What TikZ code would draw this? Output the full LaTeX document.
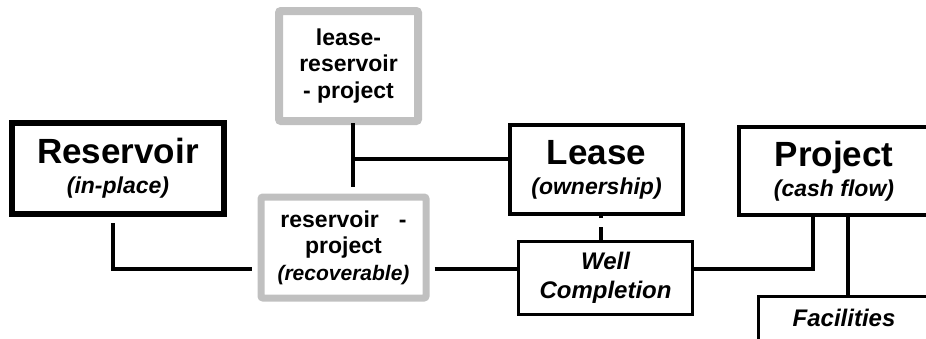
\documentclass[tikz,border=0pt]{standalone}
\usepackage{fontspec}
\setmainfont{Liberation Sans}

\definecolor{boxgray}{RGB}{192,192,192}
\newcommand{\boxtitle}[1]{{\fontsize{35}{30}\selectfont #1}}

\begin{document}
\begin{tikzpicture}[x=1pt,y=-1pt,
                    main box/.style={rectangle,draw,line width=4pt,align=center,inner sep=0pt,
                                     font=\bfseries\fontsize{23}{30}\selectfont},
                    gray box/.style={rectangle,draw=boxgray,line width=7pt,rounded corners=2pt,
                                     align=center,inner sep=0pt,font=\bfseries\fontsize{23}{26.5}\selectfont},
                    link/.style={line width=4.5pt}]
  \clip (0,0) rectangle (926,338);
  \node[main box,line width=6pt,minimum width=212pt,minimum height=91pt] (res) at (118,168.5)
    {\boxtitle{Reservoir}\\\textit{(in-place)}};
  \node[gray box,line width=8pt,minimum width=139pt,minimum height=110pt] (lrp) at (348.5,66)
    {lease-\\reservoir\\- project};
  \node[gray box,minimum width=165pt,minimum height=101pt] (rp) at (343.5,247.5)
    {reservoir\hspace{20pt}-\\project\\{\fontsize{21}{26}\selectfont\itshape (recoverable)}};
  \node[main box,minimum width=173pt,minimum height=89pt] (lease) at (596.5,169.5)
    {\boxtitle{Lease}\\\textit{(ownership)}};
  \node[main box,line width=3pt,minimum width=174pt,minimum height=73pt,
        font=\bfseries\itshape\fontsize{24}{29}\selectfont] (well) at (605.5,278)
    {Well\\Completion};
  \node[main box,minimum width=190pt,minimum height=88pt] (proj) at (834,171)
    {\boxtitle{Project}\\\textit{(cash flow)}};
  \node[main box,line width=3pt,minimum width=171pt,minimum height=60pt,
        text height=17.5pt,text depth=17pt,font=\bfseries\itshape\fontsize{24}{29}\selectfont] (fac) at (844,326.5)
    {Facilities};
%  connectors
  \draw[link,shorten <=6pt,shorten >=5.5pt] ([xshift=-5pt]res.south) |- ([yshift=-21.5pt]rp.west);
  \draw[link,shorten <=5pt] ([yshift=-21.5pt]rp.east) -- ([yshift=-21.5pt]rp.east -| well.west);
  \draw[link] ([yshift=9pt]well.east) -| ([xshift=-21pt]proj.south);
  \draw[link] ([xshift=14pt]proj.south) -- ([xshift=14pt]proj.south |- fac.north);
  \draw[link,shorten <=-2pt,shorten >=6.5pt] ([xshift=4.5pt]lrp.south) -- ([xshift=4.5pt]lrp.south |- rp.north);
  \draw[link] ([yshift=10.5pt]lease.west) -- ([xshift=4.5pt,yshift=10.5pt]lrp.south |- lease.west);
  \draw[link,line width=4pt,dash pattern=on 2pt off 9pt on 13pt off 0pt]
    ([xshift=4.5pt]lease.south) -- ([xshift=4.5pt]lease.south |- well.north);
\end{tikzpicture}
\end{document}
